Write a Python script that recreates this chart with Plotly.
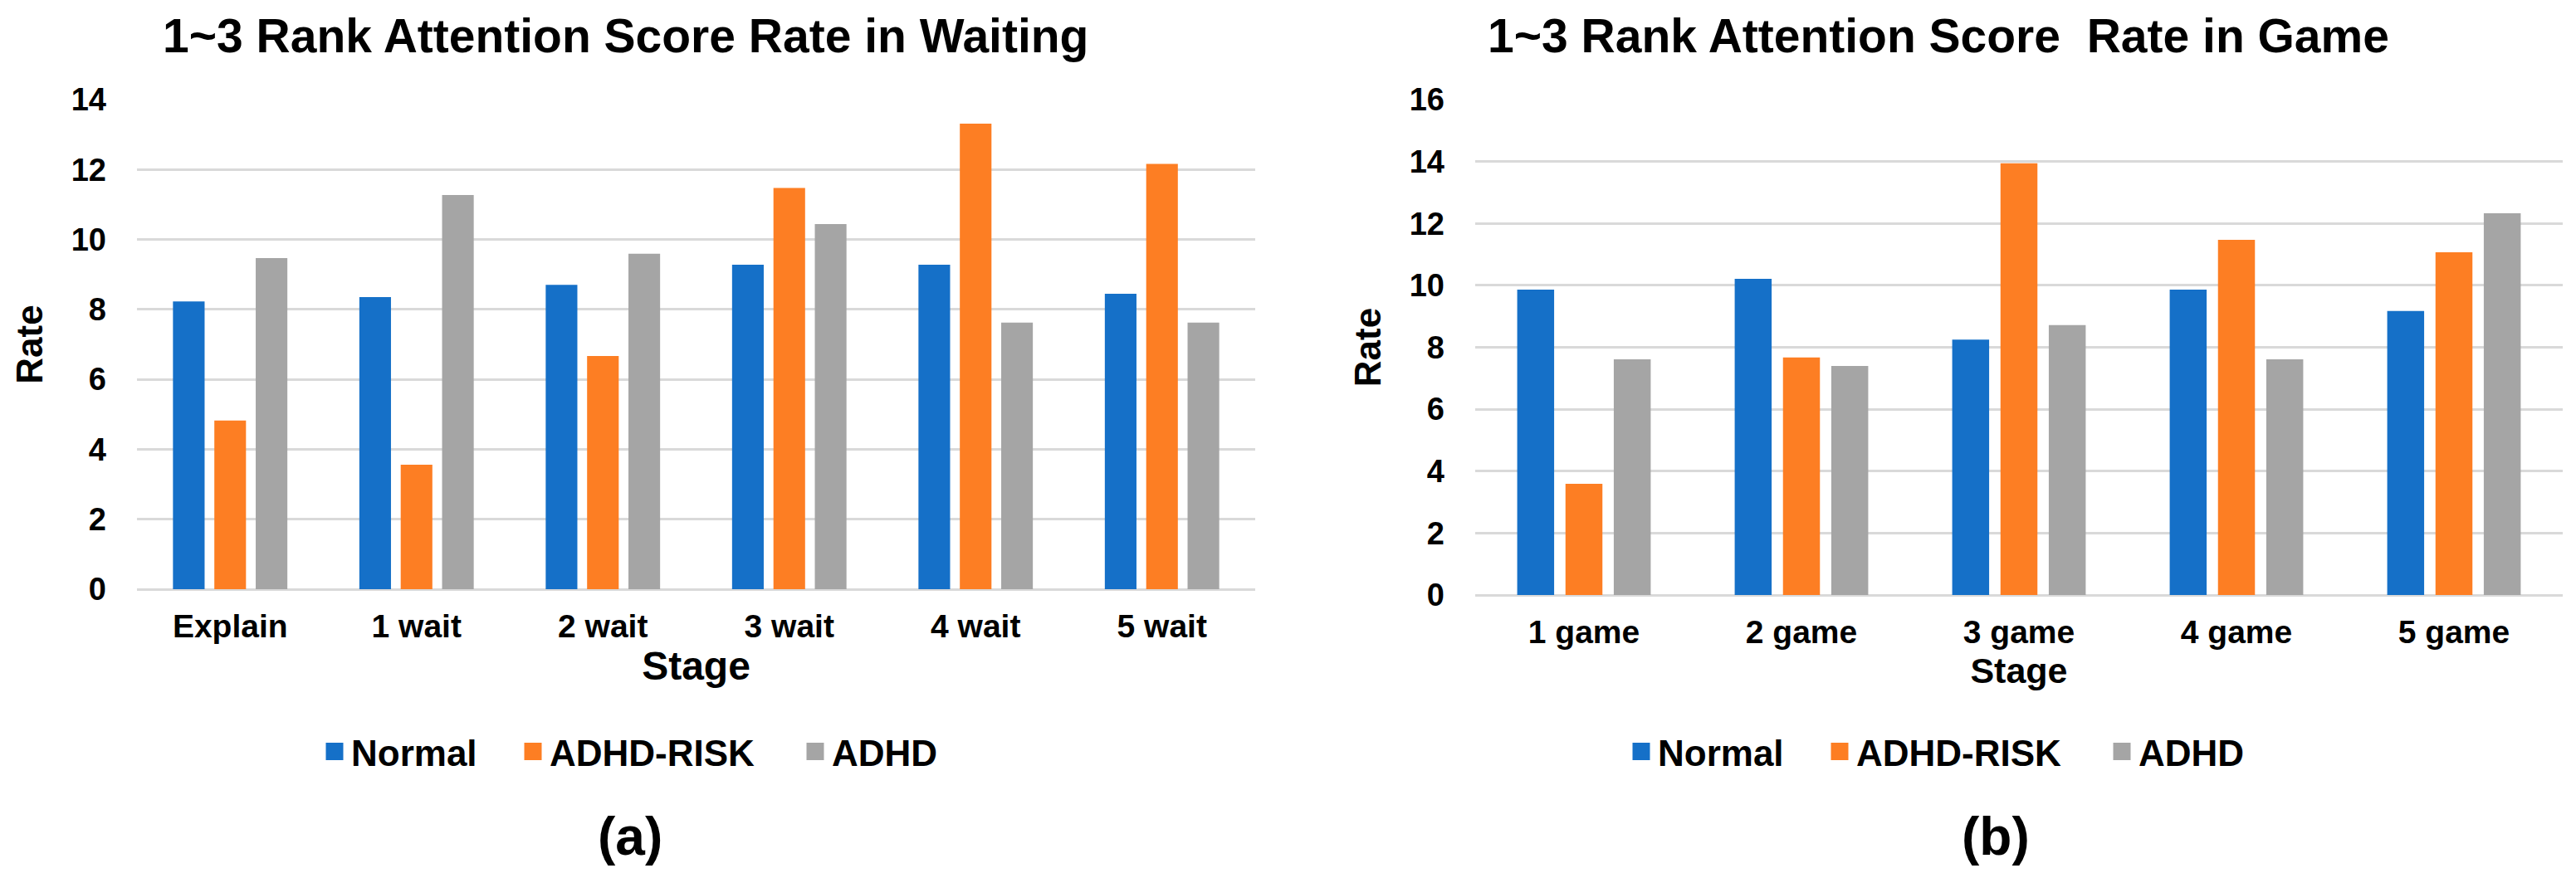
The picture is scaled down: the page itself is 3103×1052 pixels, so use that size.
import plotly.graph_objects as go

W, H = 3103, 1052

groups = ["Normal", "ADHD-RISK", "ADHD"]
colors = ["#1570C8", "#FD7E23", "#A5A5A5"]

wait_stages = ["Explain", "1 wait", "2 wait", "3 wait", "4 wait", "5 wait"]
wait_normal = [8.23, 8.35, 8.70, 9.28, 9.28, 8.45]
wait_risk = [4.82, 3.56, 6.67, 11.47, 13.31, 12.16]
wait_adhd = [9.47, 11.27, 9.59, 10.44, 7.62, 7.62]

game_stages = ["1 game", "2 game", "3 game", "4 game", "5 game"]
game_normal = [9.86, 10.21, 8.25, 9.86, 9.17]
game_risk = [3.59, 7.67, 13.94, 11.47, 11.07]
game_adhd = [7.61, 7.40, 8.72, 7.61, 12.33]

title_a = "1~3 Rank Attention Score Rate in Waiting"
title_b = "1~3 Rank Attention Score\u00a0 Rate in Game"

FONT = "Liberation Sans, Arial, sans-serif"
GRID = "#D9D9D9"

fig = go.Figure()

wait_series = [wait_normal, wait_risk, wait_adhd]
game_series = [game_normal, game_risk, game_adhd]

for name, col, vals in zip(groups, colors, wait_series):
    fig.add_trace(go.Bar(x=wait_stages, y=vals, name=name, marker=dict(color=col, line=dict(width=0)),
                         xaxis="x", yaxis="y", showlegend=False))
for name, col, vals in zip(groups, colors, game_series):
    fig.add_trace(go.Bar(x=game_stages, y=vals, name=name, marker=dict(color=col, line=dict(width=0)),
                         xaxis="x2", yaxis="y2", showlegend=False))

lw = {"Normal": 194, "ADHD-RISK": 295, "ADHD": None}
for lg, xa, ya in [("legend", "x", "y"), ("legend2", "x2", "y2")]:
    for name, col in zip(groups, colors):
        kw = {}
        if lw[name]:
            kw["legendwidth"] = lw[name]
        fig.add_trace(go.Scatter(x=[None], y=[None], mode="markers", name=name,
                                 marker=dict(symbol="square", size=16, color=col, line=dict(width=5, color=col)),
                                 xaxis=xa, yaxis=ya, legend=lg, showlegend=True, **kw))

tickfont = dict(family=FONT, size=38, color="black", weight="bold")
xtickfont = dict(family=FONT, size=39, color="black", weight="bold")

common_y = dict(showgrid=True, gridcolor=GRID, gridwidth=3, zeroline=True, zerolinecolor=GRID,
                zerolinewidth=3, showline=False, ticks="", tickfont=tickfont, dtick=2,
                ticklabelstandoff=36, automargin=False)
common_x = dict(showgrid=False, showline=False, zeroline=False, ticks="", tickfont=xtickfont,
                ticklabelstandoff=18, automargin=False, type="category")

fig.update_layout(
    width=W, height=H,
    margin=dict(l=0, r=0, t=0, b=0, pad=0),
    paper_bgcolor="white", plot_bgcolor="white",
    barmode="group", bargap=0.334, bargroupgap=0.235,
    xaxis=dict(domain=[165 / W, 1512 / W], anchor="y",
               title=dict(text="Stage", font=dict(family=FONT, size=48, color="black", weight="bold"), standoff=7),
               **common_x),
    yaxis=dict(domain=[1 - 710 / H, 1 - 120 / H], anchor="x", range=[0, 14],
               title=dict(text="Rate", font=dict(family=FONT, size=44, color="black", weight="bold"), standoff=20),
               **common_y),
    xaxis2=dict(domain=[1777 / W, 3087 / W], anchor="y2",
                title=dict(text="Stage", font=dict(family=FONT, size=43, color="black", weight="bold"), standoff=10),
                **common_x),
    yaxis2=dict(domain=[1 - 717 / H, 1 - 120 / H], anchor="x2", range=[0, 16],
                title=dict(text="Rate", font=dict(family=FONT, size=44, color="black", weight="bold"), standoff=20),
                **common_y),
    legend=dict(orientation="h", x=(393 - 10) / W, xanchor="left", y=1 - 906 / H, yanchor="middle",
                font=dict(family=FONT, size=44, color="black", weight="bold"), bgcolor="rgba(0,0,0,0)"),
    legend2=dict(orientation="h", x=(1973 - 16) / W, xanchor="left", y=1 - 906 / H, yanchor="middle",
                 font=dict(family=FONT, size=44, color="black", weight="bold"), bgcolor="rgba(0,0,0,0)"),
    annotations=[
        dict(text=title_a, x=194 / W, y=1 - 43 / H, xref="paper", yref="paper", xanchor="left", yanchor="middle",
             showarrow=False, font=dict(family=FONT, size=57, color="black", weight="bold")),
        dict(text=title_b, x=1790 / W, y=1 - 43 / H, xref="paper", yref="paper", xanchor="left", yanchor="middle",
             showarrow=False, font=dict(family=FONT, size=57, color="black", weight="bold")),
        dict(text="(a)", x=759 / W, y=1 - 1008 / H, xref="paper", yref="paper", xanchor="center", yanchor="middle",
             showarrow=False, font=dict(family=FONT, size=64, color="black", weight="bold")),
        dict(text="(b)", x=2404 / W, y=1 - 1008 / H, xref="paper", yref="paper", xanchor="center", yanchor="middle",
             showarrow=False, font=dict(family=FONT, size=64, color="black", weight="bold")),
    ],
)

fig.write_html("out.html", config={"displayModeBar": False},
               post_script="document.body.style.margin='0';")
